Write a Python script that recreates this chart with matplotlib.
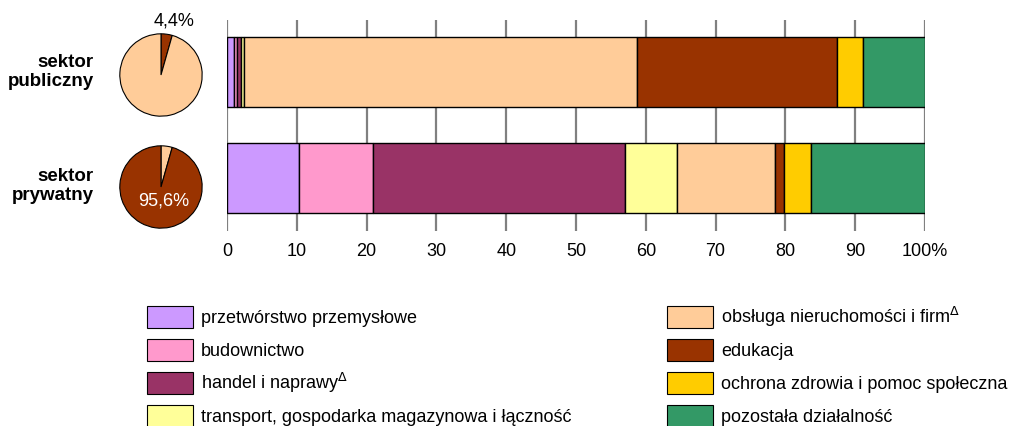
import numpy as np
import matplotlib
matplotlib.use("Agg")
import matplotlib.pyplot as plt
from matplotlib.patches import Rectangle

plt.rcParams['font.family'] = ['Liberation Sans', 'DejaVu Sans']

W, H = 1021, 427

# data (udział w %)
sectors = ['sektor\npubliczny', 'sektor\nprywatny']
categories = ['przetwórstwo przemysłowe', 'budownictwo', r'handel i naprawy$^{\Delta}$',
              'transport, gospodarka magazynowa i łączność', r'obsługa nieruchomości i firm$^{\Delta}$',
              'edukacja', 'ochrona zdrowia i pomoc społeczna', 'pozostała działalność']
colors = ['#CC99FF', '#FF99CC', '#993366', '#FFFF99', '#FFCC99', '#993300', '#FFCC00', '#339966']
public_vals = [1.05, 0.43, 0.57, 0.43, 56.2, 28.7, 3.7, 8.9]
private_vals = [10.3, 10.6, 36.1, 7.4, 14.1, 1.3, 3.9, 16.3]
pie_public = [4.4, 95.6]    # publiczny, prywatny
pie_labels = ['4,4%', '95,6%']
xticks = np.arange(0, 101, 10)
xticklabels = [str(t) for t in xticks[:-1]] + ['100%']


def fig_rect(x0, y0, x1, y1):
    # pixel box (top-left origin) -> figure coords
    return [x0 / W, 1 - y1 / H, (x1 - x0) / W, (y1 - y0) / H]


fig = plt.figure(figsize=(W / 100, H / 100), dpi=100)

# ---- stacked bars ----
ax = fig.add_axes(fig_rect(227, 21, 925, 232))
vals = np.array([public_vals, private_vals])
left = np.zeros(2)
for i, c in enumerate(colors):
    ax.barh([0, 1], vals[:, i], left=left, height=0.66, color=c,
            edgecolor='black', linewidth=1, zorder=3)
    left += vals[:, i]
ax.set_xlim(0, 100)
ax.set_ylim(1.5, -0.49)
ax.set_xticks(xticks)
ax.set_xticklabels(xticklabels, fontsize=13)
ax.set_yticks([])
ax.tick_params(axis='x', length=0, pad=8)
for s in ax.spines.values():
    s.set_visible(False)
ax.grid(axis='x', color='#808080', linewidth=1.6, zorder=0)
ax.set_axisbelow(True)

# sector labels
for yc, lab in zip([72, 186], sectors):
    fig.text(94 / W, 1 - yc / H, lab, ha='right', va='center', fontsize=13.5,
             fontweight='bold', linespacing=1.1)

# ---- pies ----
pie_cols = [['#993300', '#FFCC99'], ['#FFCC99', '#993300']]
pie_data = [pie_public, pie_public]
for k, yc in enumerate([76, 188]):
    pax = fig.add_axes(fig_rect(119, yc - 42, 203, yc + 42))
    pax.pie(pie_data[k], colors=pie_cols[k], startangle=90, counterclock=False,
            wedgeprops=dict(edgecolor='black', linewidth=0.8))
    pax.set_xlim(-1.02, 1.02)
    pax.set_ylim(-1.02, 1.02)
    pax.set_aspect('equal')

fig.text(174 / W, 1 - 21 / H, pie_labels[0], ha='center', va='center', fontsize=13)
fig.text(164 / W, 1 - 201 / H, pie_labels[1], ha='center', va='center', fontsize=13,
         color='white')

# ---- legend ----
lax = fig.add_axes([0, 0, 1, 1], zorder=-1)
lax.set_xlim(0, W)
lax.set_ylim(H, 0)
lax.axis('off')
row_y = [318, 351, 384, 417]
for i, (lab, c) in enumerate(zip(categories, colors)):
    col, row = divmod(i, 4)
    x0 = 147 if col == 0 else 667
    yc = row_y[row]
    lax.add_patch(Rectangle((x0, yc - 11), 46, 22, facecolor=c, edgecolor='black',
                            linewidth=0.8))
    lax.text(x0 + 54, yc + 5, lab, ha='left', va='baseline', fontsize=13)

fig.savefig('out.png', dpi=100)
